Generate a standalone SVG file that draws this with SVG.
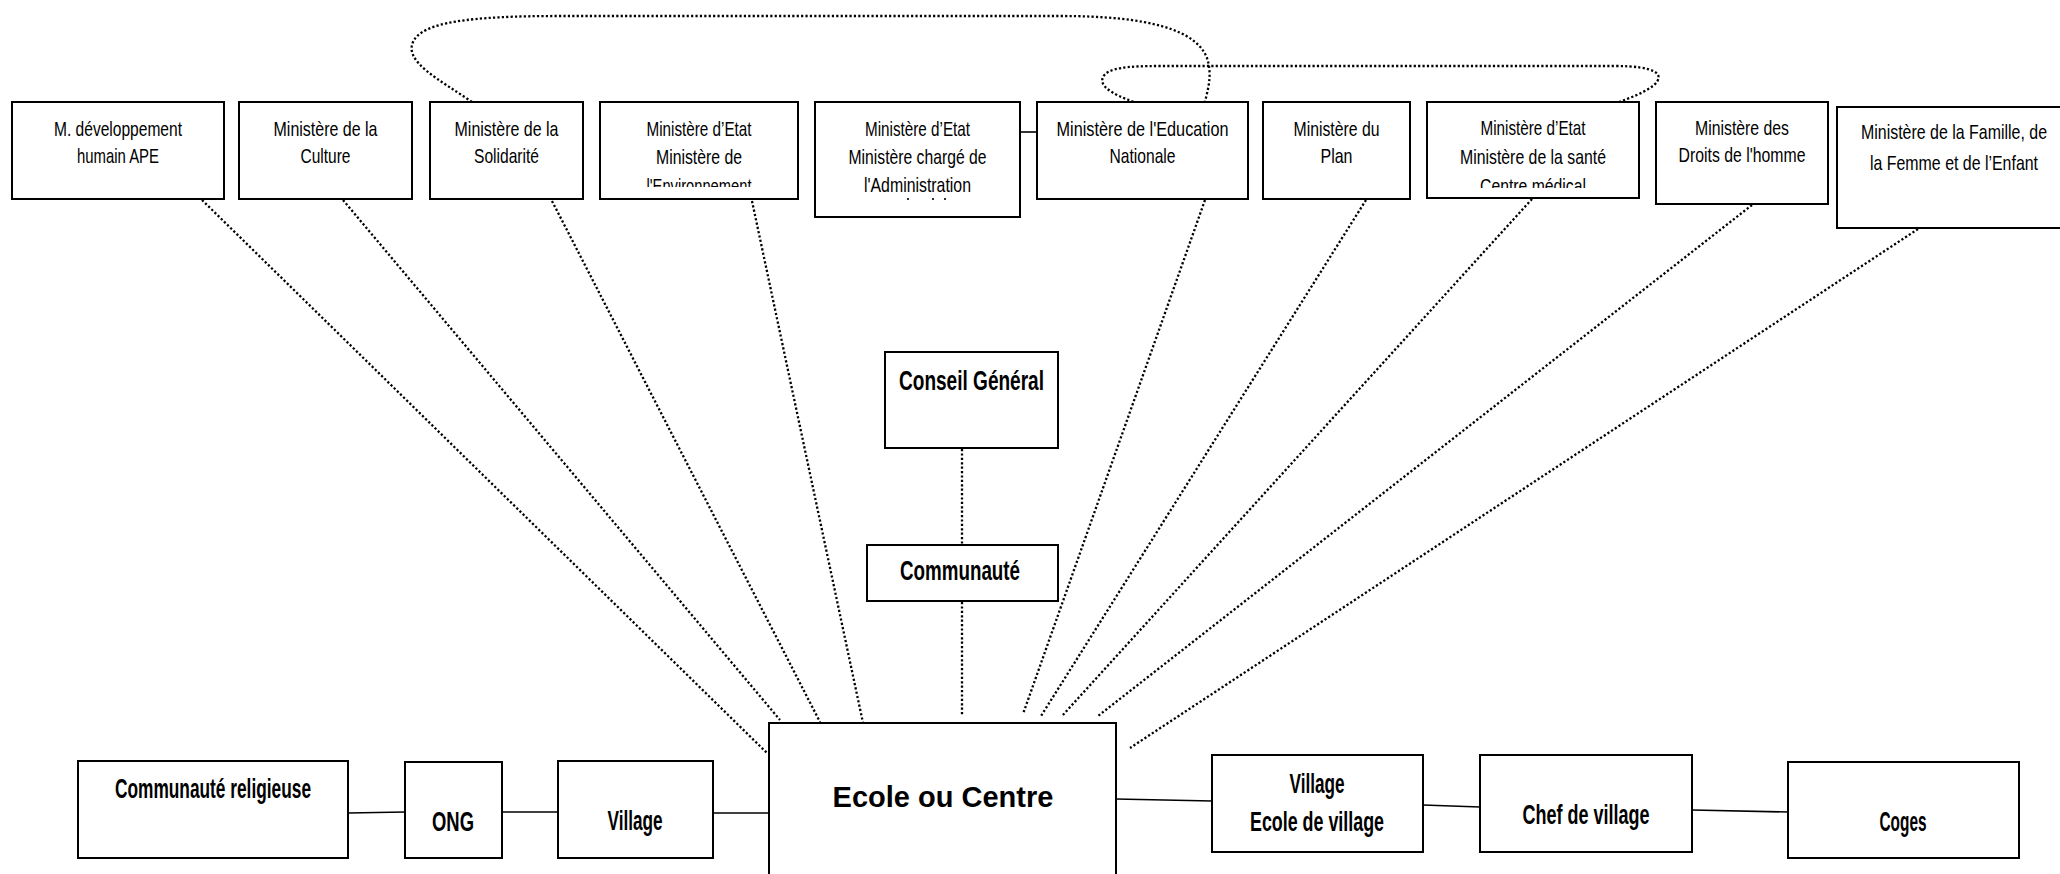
<svg xmlns="http://www.w3.org/2000/svg" width="2060" height="874" viewBox="0 0 2060 874">
  <style>
    .box { fill: #ffffff; stroke: #000000; stroke-width: 2; }
    .t { font-family: "Liberation Sans", Arial, sans-serif; font-size: 21px; fill: #000000; text-anchor: middle; }
    .te { font-family: "Liberation Sans", Arial, sans-serif; font-size: 21px; fill: #000000; text-anchor: end; }
    .b { font-family: "Liberation Sans", Arial, sans-serif; font-size: 27px; font-weight: bold; fill: #000000; text-anchor: middle; }
    .big { font-family: "Liberation Sans", Arial, sans-serif; font-size: 29px; font-weight: bold; fill: #000000; text-anchor: middle; }
    .solid { fill: none; stroke: #000000; stroke-width: 1.6; }
    .dot { fill: none; stroke: #000000; stroke-width: 2.3; stroke-dasharray: 2.2 2.2; }
  </style>
  <defs>
    <clipPath id="clipEnv"><rect x="600" y="160" width="198" height="27"/></clipPath>
    <clipPath id="clipSante"><rect x="1427" y="160" width="212" height="28"/></clipPath>
  </defs>
  <rect width="2060" height="874" fill="#ffffff"/>

  <!-- connectors -->
  <g id="connectors">
    <!-- solid links -->
    <line class="solid" x1="1020" y1="132" x2="1037" y2="132"/>
    <line class="solid" x1="348" y1="813" x2="405" y2="812"/>
    <line class="solid" x1="502" y1="812" x2="558" y2="812"/>
    <line class="solid" x1="713" y1="813" x2="769" y2="813"/>
    <line class="solid" x1="1116" y1="799" x2="1212" y2="801"/>
    <line class="solid" x1="1423" y1="805" x2="1480" y2="807"/>
    <line class="solid" x1="1692" y1="810" x2="1788" y2="812"/>
    <!-- dotted links towards the school -->
    <line class="dot" x1="202" y1="200" x2="767" y2="753"/>
    <line class="dot" x1="343" y1="200" x2="780" y2="720"/>
    <line class="dot" x1="552" y1="201" x2="820" y2="722"/>
    <line class="dot" x1="752" y1="201" x2="866" y2="737"/>
    <line class="dot" x1="1205" y1="200" x2="1023" y2="714"/>
    <line class="dot" x1="1366" y1="200" x2="1041" y2="716"/>
    <line class="dot" x1="1532" y1="199" x2="1062" y2="716"/>
    <line class="dot" x1="1752" y1="205" x2="1098" y2="716"/>
    <line class="dot" x1="1918" y1="229" x2="1130" y2="748"/>
    <line class="dot" x1="962" y1="449" x2="962" y2="545"/>
    <line class="dot" x1="962" y1="602" x2="962" y2="716"/>
    <!-- dotted loops between ministries -->
    <path class="dot" d="M472,102 C440,80 404,62 413,42 C422,22 470,16 560,16 L1060,16 C1150,16 1196,30 1207,58 C1213,76 1207,92 1205,102"/>
    <path class="dot" d="M1146,106 C1118,97 1098,88 1103,77 C1108,68 1126,66 1160,66 L1615,66 C1655,66 1666,74 1654,85 C1642,95 1622,100 1610,106"/>
  </g>

  <!-- ministries -->
  <g id="n-developpement">
    <rect class="box" x="12" y="102" width="212" height="97"/>
    <text class="t" x="118" y="136" textLength="128" lengthAdjust="spacingAndGlyphs">M. développement</text>
    <text class="t" x="118" y="163" textLength="82" lengthAdjust="spacingAndGlyphs">humain APE</text>
  </g>
  <g id="n-culture">
    <rect class="box" x="239" y="102" width="173" height="97"/>
    <text class="t" x="325.5" y="136" textLength="104" lengthAdjust="spacingAndGlyphs">Ministère de la</text>
    <text class="t" x="325.5" y="163" textLength="50" lengthAdjust="spacingAndGlyphs">Culture</text>
  </g>
  <g id="n-solidarite">
    <rect class="box" x="430" y="102" width="153" height="97"/>
    <text class="t" x="506.5" y="136" textLength="104" lengthAdjust="spacingAndGlyphs">Ministère de la</text>
    <text class="t" x="506.5" y="163" textLength="65" lengthAdjust="spacingAndGlyphs">Solidarité</text>
  </g>
  <g id="n-environnement">
    <rect class="box" x="600" y="102" width="198" height="97"/>
    <text class="t" x="699" y="136" textLength="105" lengthAdjust="spacingAndGlyphs">Ministère d’Etat</text>
    <text class="t" x="699" y="164" textLength="86" lengthAdjust="spacingAndGlyphs">Ministère de</text>
    <text class="t" x="699" y="193" textLength="105" lengthAdjust="spacingAndGlyphs" clip-path="url(#clipEnv)">l'Environnement</text>
  </g>
  <g id="n-administration">
    <rect class="box" x="815" y="102" width="205" height="115"/>
    <text class="t" x="917.5" y="136" textLength="105" lengthAdjust="spacingAndGlyphs">Ministère d’Etat</text>
    <text class="t" x="917.5" y="164" textLength="138" lengthAdjust="spacingAndGlyphs">Ministère chargé de</text>
    <text class="t" x="917.5" y="192" textLength="107" lengthAdjust="spacingAndGlyphs">l'Administration</text>
    <circle cx="908" cy="199" r="1.1" fill="#000"/>
    <circle cx="933" cy="199" r="1.1" fill="#000"/>
    <circle cx="945" cy="199" r="1.1" fill="#000"/>
  </g>
  <g id="n-education">
    <rect class="box" x="1037" y="102" width="211" height="97"/>
    <text class="t" x="1142.5" y="136" textLength="172" lengthAdjust="spacingAndGlyphs">Ministère de l'Education</text>
    <text class="t" x="1142.5" y="163" textLength="66" lengthAdjust="spacingAndGlyphs">Nationale</text>
  </g>
  <g id="n-plan">
    <rect class="box" x="1263" y="102" width="147" height="97"/>
    <text class="t" x="1336.5" y="136" textLength="86" lengthAdjust="spacingAndGlyphs">Ministère du</text>
    <text class="t" x="1336.5" y="163" textLength="32" lengthAdjust="spacingAndGlyphs">Plan</text>
  </g>
  <g id="n-sante">
    <rect class="box" x="1427" y="102" width="212" height="96"/>
    <text class="t" x="1533" y="135" textLength="105" lengthAdjust="spacingAndGlyphs">Ministère d’Etat</text>
    <text class="t" x="1533" y="164" textLength="146" lengthAdjust="spacingAndGlyphs">Ministère de la santé</text>
    <text class="t" x="1533" y="193" textLength="106" lengthAdjust="spacingAndGlyphs" clip-path="url(#clipSante)">Centre médical</text>
  </g>
  <g id="n-droits">
    <rect class="box" x="1656" y="102" width="172" height="102"/>
    <text class="t" x="1742" y="135" textLength="94" lengthAdjust="spacingAndGlyphs">Ministère des</text>
    <text class="t" x="1742" y="162" textLength="127" lengthAdjust="spacingAndGlyphs">Droits de l'homme</text>
  </g>
  <g id="n-famille">
    <rect class="box" x="1837" y="107" width="234" height="121"/>
    <text class="te" x="2047" y="139" textLength="186" lengthAdjust="spacingAndGlyphs">Ministère de la Famille, de</text>
    <text class="te" x="2038" y="170" textLength="168" lengthAdjust="spacingAndGlyphs">la Femme et de l’Enfant</text>
  </g>

  <!-- local actors -->
  <g id="n-conseil">
    <rect class="box" x="885" y="352" width="173" height="96"/>
    <text class="b" x="971.5" y="390" textLength="145" lengthAdjust="spacingAndGlyphs">Conseil  Général</text>
  </g>
  <g id="n-communaute">
    <rect class="box" x="867" y="545" width="191" height="56"/>
    <text class="b" x="960" y="580" textLength="120" lengthAdjust="spacingAndGlyphs">Communauté</text>
  </g>
  <g id="n-ecole">
    <rect class="box" x="769" y="723" width="347" height="165"/>
    <text class="big" x="943" y="807">Ecole ou Centre</text>
  </g>
  <g id="n-religieuse">
    <rect class="box" x="78" y="761" width="270" height="97"/>
    <text class="b" x="213" y="798" textLength="196" lengthAdjust="spacingAndGlyphs">Communauté  religieuse</text>
  </g>
  <g id="n-ong">
    <rect class="box" x="405" y="762" width="97" height="96"/>
    <text class="b" x="453" y="831" textLength="42" lengthAdjust="spacingAndGlyphs">ONG</text>
  </g>
  <g id="n-village">
    <rect class="box" x="558" y="761" width="155" height="97"/>
    <text class="b" x="635" y="830" textLength="55" lengthAdjust="spacingAndGlyphs">Village</text>
  </g>
  <g id="n-ecole-village">
    <rect class="box" x="1212" y="755" width="211" height="97"/>
    <text class="b" x="1317" y="793" textLength="55" lengthAdjust="spacingAndGlyphs">Village</text>
    <text class="b" x="1317" y="831" textLength="134" lengthAdjust="spacingAndGlyphs">Ecole de village</text>
  </g>
  <g id="n-chef">
    <rect class="box" x="1480" y="755" width="212" height="97"/>
    <text class="b" x="1586" y="824" textLength="127" lengthAdjust="spacingAndGlyphs">Chef de village</text>
  </g>
  <g id="n-coges">
    <rect class="box" x="1788" y="762" width="231" height="96"/>
    <text class="b" x="1903" y="831" textLength="47" lengthAdjust="spacingAndGlyphs">Coges</text>
  </g>
</svg>
